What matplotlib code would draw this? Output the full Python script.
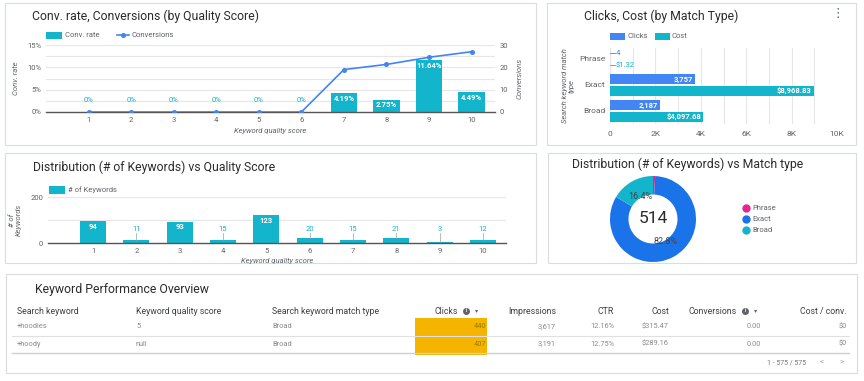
import matplotlib
matplotlib.use('Agg')
import matplotlib.pyplot as plt
from matplotlib.patches import Rectangle
from matplotlib.lines import Line2D
import numpy as np

plt.rcParams['font.family'] = ['Roboto', 'DejaVu Sans']

# ---------------- data ----------------
quality_scores = [1, 2, 3, 4, 5, 6, 7, 8, 9, 10]
conv_rate = [0, 0, 0, 0, 0, 0, 4.19, 2.75, 11.64, 4.49]
conversions = [0, 0, 0, 0, 0, 0, 19, 21.3, 24.5, 27]

match_types = ['Phrase', 'Exact', 'Broad']
clicks = [4, 3757, 2187]
cost = [1.32, 8968.83, 4097.68]

kw_counts = [94, 11, 93, 15, 123, 20, 15, 21, 3, 12]

donut_labels = ['Phrase', 'Exact', 'Broad']
donut_share = [0.8, 82.8, 16.4]
donut_total = 514

table_cols = ['Search keyword', 'Keyword quality score', 'Search keyword match type',
              'Clicks', 'Impressions', 'CTR', 'Cost', 'Conversions', 'Cost / conv.']
table_rows = [
    ['+hoodies', '5', 'Broad', '440', '3,617', '12.16%', '$315.47', '0.00', '$0'],
    ['+hoody', 'null', 'Broad', '407', '3,191', '12.75%', '$289.16', '0.00', '$0'],
]

# ---------------- style ----------------
TEAL = '#12B5CB'
LINEBLUE = '#4285F4'
CLICKS = '#4285F4'
EXACT = '#1A73E8'
PHRASE = '#E52592'
HIGHLIGHT = '#F4B400'
TITLE = '#2b2b2b'
TICK = '#5f6368'
GRID = '#e6e6e6'
TSIZE = 8.8
TWEIGHT = 'normal'

W, H = 864, 381
fig = plt.figure(figsize=(W / 100, H / 100), dpi=100)
fig.patch.set_facecolor('white')


def add_ax(x0, y0, x1, y1):
    ax = fig.add_axes([x0 / W, 1 - y1 / H, (x1 - x0) / W, (y1 - y0) / H])
    ax.patch.set_alpha(0)
    return ax


def card(x0, y0, x1, y1):
    fig.patches.append(Rectangle((x0 / W, 1 - y1 / H), (x1 - x0) / W, (y1 - y0) / H,
                                 transform=fig.transFigure, facecolor='white',
                                 edgecolor='#dadce0', lw=0.8, zorder=-5))


def ftext(x, y, s, **kw):
    kw.setdefault('va', 'center')
    return fig.text(x / W, 1 - y / H, s, **kw)


def frect(x0, y0, x1, y1, color, z=1):
    fig.patches.append(Rectangle((x0 / W, 1 - y1 / H), (x1 - x0) / W, (y1 - y0) / H,
                                 transform=fig.transFigure, facecolor=color,
                                 edgecolor='none', zorder=z))


def fline(x0, y0, x1, y1, color, lw=0.8, **kw):
    fig.lines.append(Line2D([x0 / W, x1 / W], [1 - y0 / H, 1 - y1 / H],
                            transform=fig.transFigure, color=color, lw=lw, **kw))


def fmarker(x, y, color, ms):
    fig.lines.append(Line2D([x / W], [1 - y / H], transform=fig.transFigure, marker='o',
                            ms=ms, color=color, lw=0))


def clean(ax):
    for s in ax.spines.values():
        s.set_visible(False)
    ax.tick_params(length=0, labelsize=5.5, labelcolor=TICK)


card(5, 3, 536, 145)
card(547, 3, 856, 145)
card(5, 153, 536, 263)
card(548, 153, 856, 263)
card(6, 274, 857, 373)

# ---------------- panel 1 ----------------
ftext(32, 16, 'Conv. rate, Conversions (by Quality Score)', fontsize=TSIZE, color=TITLE,
      fontweight=TWEIGHT)
ax1 = add_ax(46, 45, 495, 112)
clean(ax1)
ax1.bar(quality_scores, conv_rate, width=0.62, color=TEAL, zorder=2)
ax1.set_xlim(0.0, 10.55)
ax1.set_ylim(0, 15)
ax1.set_yticks([0, 5, 10, 15])
ax1.set_yticklabels(['0%', '5%', '10%', '15%'])
ax1.set_yticks([2.5, 7.5, 12.5], minor=True)
ax1.tick_params(which='minor', length=0)
ax1.grid(axis='y', which='both', color=GRID, lw=0.8, zorder=0)
ax1.set_axisbelow(True)
ax1.set_xticks(quality_scores)
ax1.spines['bottom'].set_visible(True)
ax1.spines['bottom'].set_color('#555555')
ax1.spines['bottom'].set_linewidth(1.0)
ax1.set_xlabel('Keyword quality score', fontsize=5.5, color=TICK, style='italic', labelpad=4)
ax1.set_ylabel('Conv. rate', fontsize=5.5, color=TICK, style='italic', labelpad=6)
for x, v in zip(quality_scores, conv_rate):
    if v > 0:
        ax1.text(x, v - 0.35, f'{v:.2f}%', ha='center', va='top', color='white',
                 fontsize=5.5, fontweight='bold', zorder=4)
    else:
        ax1.text(x, 2.7, '0%', ha='center', va='center', color=TEAL, fontsize=5.5, zorder=4)
ax1b = ax1.twinx()
clean(ax1b)
ax1b.patch.set_alpha(0)
ax1b.plot(quality_scores, conversions, color=LINEBLUE, lw=1.2, marker='o', ms=2.6, zorder=3)
ax1b.set_ylim(0, 30)
ax1b.set_yticks([0, 10, 20, 30])
ax1b.set_ylabel('Conversions', fontsize=5.5, color=TICK, style='italic', labelpad=6)
frect(46, 32, 62, 38.5, TEAL)
ftext(65, 35.3, 'Conv. rate', fontsize=5.5, color=TICK)
fline(117, 35.3, 129, 35.3, LINEBLUE, lw=1.2)
fmarker(123, 35.3, LINEBLUE, 2.6)
ftext(132, 35.3, 'Conversions', fontsize=5.5, color=TICK)

# ---------------- panel 2 ----------------
ftext(584, 16, 'Clicks, Cost (by Match Type)', fontsize=TSIZE, color=TITLE, fontweight=TWEIGHT)
ftext(838, 14, '\u22ee', fontsize=9, color='#5f6368', ha='center', family='DejaVu Sans')
ax2 = add_ax(610, 48, 837, 124)
clean(ax2)
ypos = np.arange(len(match_types))
ax2.barh(ypos - 0.22, clicks, height=0.38, color=CLICKS, zorder=2)
ax2.barh(ypos + 0.22, cost, height=0.38, color=TEAL, zorder=2)
ax2.set_xlim(0, 10000)
ax2.set_ylim(2.5, -0.42)
ax2.set_xticks([0, 2000, 4000, 6000, 8000, 10000])
ax2.set_xticklabels(['0', '2K', '4K', '6K', '8K', '10K'])
ax2.set_xticks(np.arange(1000, 10000, 2000), minor=True)
ax2.tick_params(which='minor', length=0)
ax2.grid(axis='x', which='both', color=GRID, lw=0.8, zorder=0)
ax2.axvline(0, color='#bdbdbd', lw=0.8, zorder=1)
ax2.set_yticks(ypos)
ax2.set_yticklabels(match_types, fontsize=6)
ax2.tick_params(axis='x', labelsize=6, pad=5)
ax2.set_ylabel('Search keyword match\ntype', fontsize=5.5, color=TICK, style='italic',
               labelpad=3, linespacing=1.2)
for i, (c, k) in enumerate(zip(clicks, cost)):
    for val, off, txt, col in [(c, -0.22, f'{c:,}', CLICKS), (k, 0.22, f'${k:,.2f}', TEAL)]:
        if val > 1500:
            ax2.text(val - 80, i + off, txt, ha='right', va='center', color='white',
                     fontsize=5.5, fontweight='bold', zorder=4)
        else:
            ax2.plot([0, 230], [i + off, i + off], color=col, lw=0.6, zorder=3)
            ax2.text(260, i + off, txt, ha='left', va='center', color=col, fontsize=5.5, zorder=4)
frect(610, 33, 625, 40, CLICKS)
ftext(627, 36.5, 'Clicks', fontsize=5.5, color=TICK)
frect(655, 33, 670, 40, TEAL)
ftext(672, 36.5, 'Cost', fontsize=5.5, color=TICK)

# ---------------- panel 3 ----------------
ftext(33, 167, 'Distribution (# of Keywords) vs Quality Score', fontsize=TSIZE, color=TITLE,
      fontweight=TWEIGHT)
ax3 = add_ax(48, 197, 506, 243)
clean(ax3)
ax3.bar(quality_scores, kw_counts, width=0.6, color=TEAL, zorder=2)
ax3.set_xlim(-0.04, 10.53)
ax3.set_ylim(0, 200)
ax3.set_yticks([0, 200])
ax3.set_yticks([100], minor=True)
ax3.tick_params(which='minor', length=0)
ax3.grid(axis='y', which='both', color=GRID, lw=0.8, zorder=0)
ax3.set_xticks(quality_scores)
ax3.spines['bottom'].set_visible(True)
ax3.spines['bottom'].set_color('#555555')
ax3.spines['bottom'].set_linewidth(1.0)
ax3.set_xlabel('Keyword quality score', fontsize=5.5, color=TICK, style='italic', labelpad=3)
ax3.set_ylabel('# of\nKeywords', fontsize=5.5, color=TICK, style='italic', labelpad=6,
               linespacing=1.2)
for x, v in zip(quality_scores, kw_counts):
    if v > 50:
        ax3.text(x, v - 8, f'{v}', ha='center', va='top', color='white', fontsize=5.5,
                 fontweight='bold', zorder=4)
    else:
        ax3.plot([x, x], [v, 45], color='#9e9e9e', lw=0.5, zorder=3)
        ax3.text(x, 62, f'{v}', ha='center', va='center', color=TEAL, fontsize=5.5, zorder=4)
frect(49, 186, 65, 194, TEAL)
ftext(68, 190, '# of Keywords', fontsize=5.5, color=TICK)

# ---------------- panel 4 ----------------
ftext(572, 164, 'Distribution (# of Keywords) vs Match type', fontsize=TSIZE, color=TITLE,
      fontweight=TWEIGHT)
ax4 = add_ax(603, 169, 703, 269)
donut_colors = [PHRASE, EXACT, TEAL]
wedges, _, autotexts = ax4.pie(donut_share, colors=donut_colors, startangle=90,
                               counterclock=False, radius=1,
                               wedgeprops=dict(width=0.43, linewidth=0),
                               autopct=lambda p: f'{p:.1f}%' if p > 5 else '',
                               pctdistance=0.6)
for t in autotexts:
    t.set_fontsize(6.5)
    t.set_color('#444444')
ax4.text(0, 0, f'{donut_total}', ha='center', va='center', fontsize=12.5, color=TITLE)
ax4.set_xlim(-50 / 43, 50 / 43)
ax4.set_ylim(-50 / 43, 50 / 43)
for i, (lab, col) in enumerate(zip(donut_labels, donut_colors)):
    yy = 208 + 11 * i
    fmarker(746, yy, col, 5)
    ftext(752, yy, lab, fontsize=5.5, color=TICK)

# ---------------- panel 5 (table) ----------------
ftext(35, 290, 'Keyword Performance Overview', fontsize=TSIZE, color=TITLE, fontweight=TWEIGHT)
col_x = [17, 136, 272, 486, 556, 614, 669, 761, 847]
col_ha = ['left', 'left', 'left', 'right', 'right', 'right', 'right', 'right', 'right']
frect(415, 318, 487, 355, HIGHLIGHT, z=0)
for j, (name, x, ha) in enumerate(zip(table_cols, col_x, col_ha)):
    hx = x
    if name == 'Clicks':
        hx = 458
    if name == 'Conversions':
        hx = 737
    ftext(hx, 311, name, fontsize=6.3, color='#3c4043', ha=ha)
for hx in (466, 745):
    fmarker(hx, 311, '#5f6368', 4)
    ftext(hx, 311, 'i', fontsize=3.5, color='white', ha='center', fontweight='bold')
    ftext(hx + 11, 311, '\u25be', fontsize=4.5, color='#5f6368', ha='center',
          family='DejaVu Sans')
row_y = [326.5, 344]
for r, yy in zip(table_rows, row_y):
    for j, (val, x, ha) in enumerate(zip(r, col_x, col_ha)):
        c = '#9a7a00' if j == 3 else '#8a8a8a'
        ftext(x, yy, val, fontsize=5.3, color=c, ha=ha)
fline(12, 336, 849, 336, '#e0e0e0', lw=0.8)
fline(12, 353, 849, 353, '#d0d0d0', lw=1.0)
ftext(767, 363, '1 - 575 / 575', fontsize=5, color='#757575')
ftext(822, 363, '<', fontsize=6, color='#9e9e9e', ha='center')
ftext(842, 363, '>', fontsize=6, color='#9e9e9e', ha='center')

fig.savefig('out.png', dpi=100, facecolor='white')
